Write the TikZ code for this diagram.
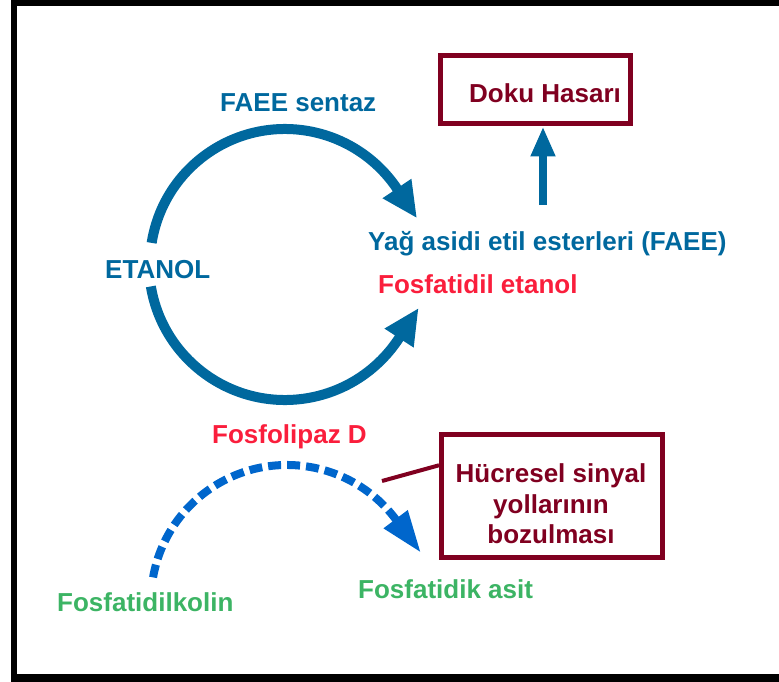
\documentclass[tikz,border=0pt]{standalone}
\usepackage{fontspec}
\setmainfont{Liberation Sans}
\usetikzlibrary{arrows.meta,calc}
\definecolor{arcblue}{RGB}{0,104,158}
\definecolor{dashblue}{RGB}{0,102,204}
\definecolor{boxred}{RGB}{128,0,32}
\definecolor{txtred}{RGB}{250,30,60}
\definecolor{txtgreen}{RGB}{60,180,100}
\tikzset{
  lbl/.style={font=\bfseries\fontsize{26}{30.5}\selectfont, inner sep=0pt, anchor=base west},
  bluetxt/.style={lbl, text=arcblue},
  redtxt/.style={lbl, text=txtred},
  greentxt/.style={lbl, text=txtgreen},
  boxtxt/.style={lbl, text=boxred},
  redbox/.style={draw=boxred, line width=5pt, rectangle, inner sep=0pt},
  solidarc/.style={draw=arcblue, line width=10pt, -{Triangle[length=36pt,width=32pt]}},
  dasharc/.style={draw=dashblue, line width=8pt, dash pattern=on 13pt off 6pt, -{Triangle[length=42pt,width=28pt]}},
  uparrow/.style={draw=arcblue, line width=8pt, -{Triangle[length=30pt,width=23pt]}},
  linkline/.style={draw=boxred, line width=4pt}
}
\begin{document}
\begin{tikzpicture}[x=1pt,y=1pt]
\useasboundingbox (0,0) rectangle (779,-682);
% frame
\fill[black] (11,0) rectangle (17,-682);
\fill[black] (11,0) rectangle (779,-6);
\fill[black] (11,-674) rectangle (779,-682);

% texts
\node[bluetxt] (sentaz) at (220,-111.5) {FAEE sentaz};
\node[bluetxt] (etanol) at (105,-278) {ETANOL};
\node[bluetxt] (faee) at (368,-250) {Yağ asidi etil esterleri (FAEE)};
\node[redtxt] (fet) at (378,-293.5) {Fosfatidil etanol};
\node[redtxt] (pld) at (212,-443) {Fosfolipaz D};
\node[greentxt] (pa) at (358,-598.5) {Fosfatidik asit};
\node[greentxt] (pc) at (57,-611) {Fosfatidilkolin};

% boxes
\node[redbox, minimum width=190pt, minimum height=68pt] (dh) at (535,-90) {};
\node[boxtxt] (dhtext) at (469,-103) {Doku Hasarı};
\node[redbox, minimum width=221pt, minimum height=123pt] (hs) at (552,-496) {};
\node[lbl, anchor=center, align=center, text=boxred] (hstext) at (551,-504)
  {Hücresel sinyal\\yollarının\\bozulması};

% circle arcs
\coordinate (c1) at (285,-264);
\coordinate (topstart) at ([shift={(171:135)}]c1);
\coordinate (botstart) at ([shift={(189.5:136)}]c1);
\draw[solidarc] (topstart) arc[start angle=171, end angle=34, radius=135] -- ++(-56:36);
\draw[solidarc] (botstart) arc[start angle=189.5, end angle=327, radius=136] -- ++(57:36);

% up arrow
\coordinate (upstart) at (543,-205);
\draw[uparrow] (upstart) -- (upstart |- dh.south);

% dashed arc
\coordinate (c2) at (287,-601);
\coordinate (dstart) at ([shift={(170:136)}]c2);
\draw[dasharc] (dstart) arc[start angle=170, end angle=37, radius=136] -- ++(-53:42);

% link line
\coordinate (lnk) at (382,-481);
\draw[linkline] (lnk) -- ($(hs.north west)!0.26!(hs.south west)$);
\end{tikzpicture}
\end{document}
